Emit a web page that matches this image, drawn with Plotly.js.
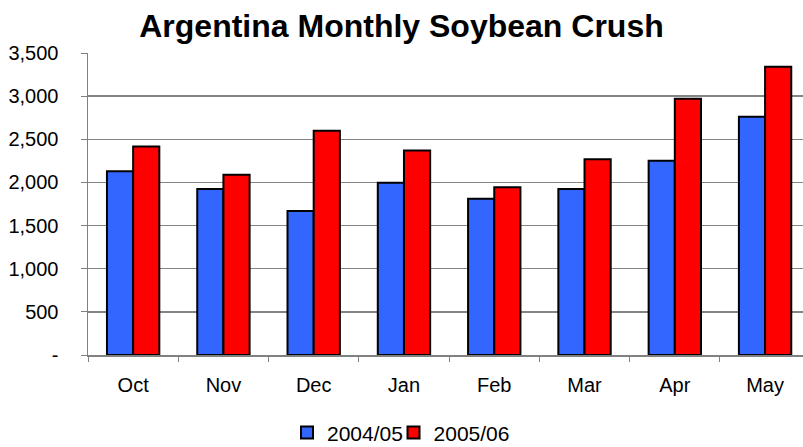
<!DOCTYPE html>
<html>
<head>
<meta charset="utf-8">
<script src="https://cdn.plot.ly/plotly-3.0.1.min.js"></script>
<style>html,body{margin:0;padding:0;background:#fff}#chart{width:803px;height:447px}</style>
</head>
<body>
<div id="chart"></div>
<script>
const months = ["Oct","Nov","Dec","Jan","Feb","Mar","Apr","May"];
const crush0405 = [2130, 1925, 1670, 1995, 1810, 1925, 2250, 2760];
const crush0506 = [2415, 2090, 2600, 2370, 1945, 2270, 2970, 3340];
const yTickVals = [0, 500, 1000, 1500, 2000, 2500, 3000, 3500];
const yTickText = ["-", "500", "1,000", "1,500", "2,000", "2,500", "3,000", "3,500"];

const font = {family: "Liberation Sans, Arial, sans-serif", color: "#000"};
const data = [
  {type: "bar", name: "2004/05", x: months, y: crush0405, legend: "legend",
   marker: {color: "#3366FF", line: {color: "#000", width: 2}}},
  {type: "bar", name: "2005/06", x: months, y: crush0506, legend: "legend2",
   marker: {color: "#FF0000", line: {color: "#000", width: 2}}}
];
const legendBase = {orientation: "h", xanchor: "left", y: -0.258, yanchor: "middle",
                    font: Object.assign({size: 21}, font), itemwidth: 30, bgcolor: "rgba(0,0,0,0)"};
const layout = {
  width: 803, height: 447,
  margin: {l: 88, r: 0, t: 53, b: 92, autoexpand: false},
  paper_bgcolor: "#fff", plot_bgcolor: "#fff",
  font: Object.assign({size: 20}, font),
  title: {text: "<b>Argentina Monthly Soybean Crush</b>", x: 0.5, xanchor: "center", xref: "container",
          y: 0.942, yref: "container", yanchor: "middle", font: Object.assign({size: 32}, font)},
  barmode: "group", bargap: 0.42, bargroupgap: 0,
  showlegend: true,
  legend: Object.assign({x: 0.2783}, legendBase),
  legend2: Object.assign({x: 0.4273}, legendBase),
  xaxis: {type: "category", range: [-0.5, 7.42], showline: true, linecolor: "#808080", linewidth: 1.5,
          ticks: "outside", tickson: "boundaries", ticklen: 5, tickcolor: "#808080",
          showgrid: false, tickfont: Object.assign({size: 20}, font), ticklabelstandoff: 11},
  yaxis: {range: [0, 3500], tickvals: yTickVals, ticktext: yTickText, showline: true,
          linecolor: "#808080", linewidth: 1.5, ticks: "outside", ticklen: 6, tickcolor: "#808080",
          showgrid: true, gridcolor: "#858585", gridwidth: 1.5, zeroline: false,
          tickfont: Object.assign({size: 20}, font), ticklabelstandoff: 18}
};
Plotly.newPlot("chart", data, layout, {displayModeBar: false, staticPlot: true});
</script>
</body>
</html>
